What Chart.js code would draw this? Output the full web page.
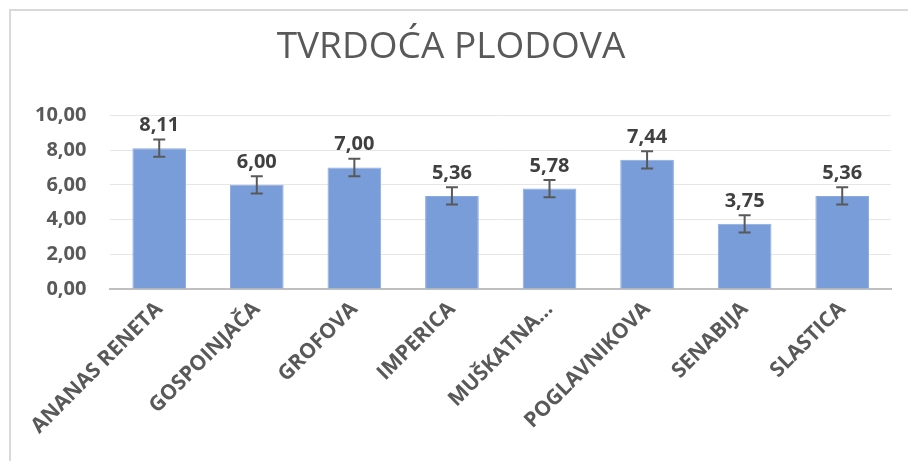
<!DOCTYPE html>
<html>
<head>
<meta charset="utf-8">
<script src="https://cdn.jsdelivr.net/npm/chart.js@4"></script>
<style>
  body { margin: 0; background: #fff; }
  #frame {
    position: absolute; left: 9px; top: 9px; width: 899px; height: 452px;
    border-top: 2px solid #d9d9d9; border-left: 2px solid #d9d9d9;
  }
  #chart1 { display: block; }
</style>
</head>
<body>
<div id="frame"><canvas id="chart1" width="897" height="450"></canvas></div>
<script>
const categories = ["ANANAS RENETA", "GOSPOINJAČA", "GROFOVA", "IMPERICA", "MUŠKATNA...", "POGLAVNIKOVA", "SENABIJA", "SLASTICA"];
const values = [8.11, 6.00, 7.00, 5.36, 5.78, 7.44, 3.75, 5.36];
const errors = [0.5, 0.5, 0.5, 0.5, 0.5, 0.5, 0.5, 0.5];
const yTicks = [0, 2, 4, 6, 8, 10];

const fmt = v => v.toFixed(2).replace(".", ",");

// error bars + value labels on top
const errorBars = {
  id: "errorBars",
  afterDatasetsDraw(chart) {
    const ctx = chart.ctx;
    const y = chart.scales.y;
    const meta = chart.getDatasetMeta(0);
    ctx.save();
    meta.data.forEach((bar, i) => {
      const yt = y.getPixelForValue(values[i] + errors[i]);
      const yb = y.getPixelForValue(values[i] - errors[i]);
      ctx.strokeStyle = "#595959";
      ctx.lineWidth = 2;
      ctx.beginPath();
      ctx.moveTo(bar.x, yt); ctx.lineTo(bar.x, yb);
      ctx.moveTo(bar.x - 6, yt); ctx.lineTo(bar.x + 6, yt);
      ctx.moveTo(bar.x - 6, yb); ctx.lineTo(bar.x + 6, yb);
      ctx.stroke();
      ctx.fillStyle = "#404040";
      ctx.font = "bold 20px 'Open Sans'";
      ctx.textAlign = "center";
      ctx.textBaseline = "bottom";
      ctx.fillText(fmt(values[i]), bar.x, yt - 4);
    });
    ctx.restore();
  }
};

new Chart(document.getElementById("chart1"), {
  type: "bar",
  data: {
    labels: categories,
    datasets: [{
      data: values,
      backgroundColor: "#789dd9",
      borderColor: "#8aaae0",
      borderWidth: 1,
      categoryPercentage: 1,
      barPercentage: 0.55
    }]
  },
  options: {
    responsive: false,
    animation: false,
    layout: { padding: { left: 0, right: 17, top: 0, bottom: 14 } },
    plugins: {
      legend: { display: false },
      tooltip: { enabled: false },
      title: {
        display: true,
        text: "TVRDOĆA PLODOVA",
        color: "#595959",
        font: { family: "'Open Sans'", size: 37, weight: "normal" },
        padding: { top: 14, bottom: 46 }
      }
    },
    scales: {
      x: {
        grid: { display: false, drawTicks: false },
        border: { color: "#bfbfbf", width: 2 },
        ticks: {
          color: "#595959",
          font: { family: "'Open Sans'", size: 21, weight: "bold" },
          minRotation: 45, maxRotation: 45, padding: 8, autoSkip: false
        }
      },
      y: {
        min: 0, max: 10,
        afterBuildTicks: axis => { axis.ticks = yTicks.map(v => ({ value: v })); },
        grid: { color: "#e6e6e6", drawTicks: false },
        border: { display: false },
        ticks: {
          color: "#595959",
          font: { family: "'Open Sans'", size: 20, weight: "bold" },
          padding: 24,
          callback: v => fmt(v)
        }
      }
    }
  },
  plugins: [errorBars]
});
</script>
</body>
</html>
